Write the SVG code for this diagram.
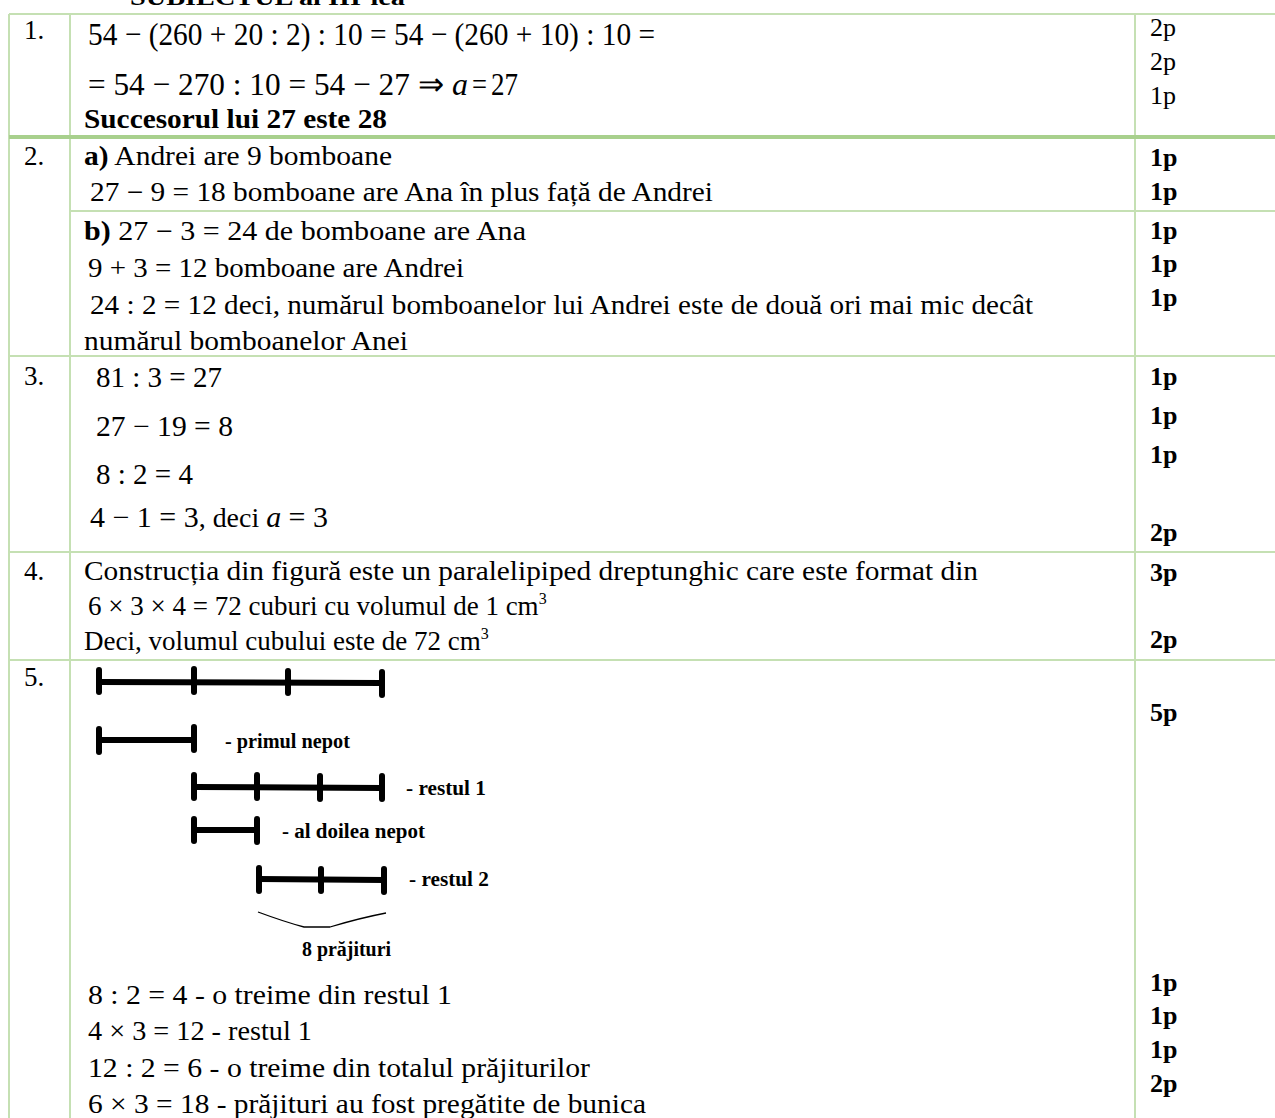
<svg xmlns="http://www.w3.org/2000/svg" width="1275" height="1118" viewBox="0 0 1275 1118">
  <style>
    text { font-family: "Liberation Serif", "Times New Roman", serif; fill: #000; }
    .t { font-size: 27px; }
    .eq { font-size: 29px; }
    .eq1 { font-size: 32px; }
    .i { font-style: italic; }
    .b { font-weight: bold; }
    .pt { font-size: 26px; }
    .lbl { font-size: 20.5px; font-weight: bold; }
    .grid { stroke: #c5e0b3; stroke-width: 2; fill: none; }
    .thick { stroke: #a8d08d; stroke-width: 4; }
    .bar { stroke: #000; stroke-width: 6; stroke-linecap: round; fill: none; }
    .brace { stroke: #000; stroke-width: 1.3; fill: none; }
  </style>

  <!-- heading, mostly above the visible area -->
  <text x="130" y="5" class="b" font-size="24" textLength="275" lengthAdjust="spacingAndGlyphs">SUBIECTUL al III-lea</text>

  <!-- table rules -->
  <g id="grid" class="grid">
    <line x1="9" y1="14" x2="1275" y2="14"/>
    <line x1="9" y1="14" x2="9" y2="1118"/>
    <line x1="70" y1="14" x2="70" y2="1118"/>
    <line x1="1135" y1="14" x2="1135" y2="1118"/>
    <line x1="9" y1="137" x2="1275" y2="137" class="thick"/>
    <line x1="70" y1="211" x2="1275" y2="211"/>
    <line x1="9" y1="356" x2="1275" y2="356"/>
    <line x1="9" y1="552" x2="1275" y2="552"/>
    <line x1="9" y1="660" x2="1275" y2="660"/>
  </g>

  <!-- row 1 -->
  <g id="row1">
    <text x="24" y="39" class="t">1.</text>
    <text x="88" y="45" class="eq1" textLength="567" lengthAdjust="spacingAndGlyphs">54 − (260 + 20 : 2) : 10 = 54 − (260 + 10) : 10 =</text>
    <text x="88" y="95" class="eq1" textLength="356" lengthAdjust="spacingAndGlyphs">= 54 − 270 : 10 = 54 − 27 ⇒</text>
    <text x="452" y="95" class="eq1 i">a</text>
    <text x="472" y="95" class="eq1" textLength="15" lengthAdjust="spacingAndGlyphs">=</text>
    <text x="491" y="95" class="eq1" textLength="27" lengthAdjust="spacingAndGlyphs">27</text>
    <text x="84" y="128" class="t b" textLength="303" lengthAdjust="spacingAndGlyphs">Succesorul lui 27 este 28</text>
    <text x="1150" y="36" class="pt">2p</text>
    <text x="1150" y="70" class="pt">2p</text>
    <text x="1150" y="104" class="pt">1p</text>
  </g>

  <!-- row 2 -->
  <g id="row2">
    <text x="24" y="165" class="t">2.</text>
    <text x="84" y="165" class="t" textLength="308" lengthAdjust="spacingAndGlyphs"><tspan class="b">a)</tspan> Andrei are 9 bomboane</text>
    <text x="90" y="201" class="t" textLength="623" lengthAdjust="spacingAndGlyphs">27 − 9 = 18 bomboane are Ana în plus față de Andrei</text>
    <text x="84" y="240" class="t" textLength="442" lengthAdjust="spacingAndGlyphs"><tspan class="b">b)</tspan>  27 − 3 = 24 de bomboane are Ana</text>
    <text x="88" y="277" class="t" textLength="376" lengthAdjust="spacingAndGlyphs">9 + 3 = 12 bomboane are Andrei</text>
    <text x="90" y="314" class="t" textLength="943" lengthAdjust="spacingAndGlyphs">24 : 2 = 12 deci, numărul bomboanelor lui Andrei este de două ori mai mic decât</text>
    <text x="84" y="350" class="t" textLength="324" lengthAdjust="spacingAndGlyphs">numărul bomboanelor Anei</text>
    <text x="1150" y="166" class="pt b">1p</text>
    <text x="1150" y="200" class="pt b">1p</text>
    <text x="1150" y="239" class="pt b">1p</text>
    <text x="1150" y="272" class="pt b">1p</text>
    <text x="1150" y="306" class="pt b">1p</text>
  </g>

  <!-- row 3 -->
  <g id="row3">
    <text x="24" y="385" class="t">3.</text>
    <text x="96" y="387" class="eq" textLength="126" lengthAdjust="spacingAndGlyphs">81 : 3 = 27</text>
    <text x="96" y="436" class="eq" textLength="137" lengthAdjust="spacingAndGlyphs">27 − 19 = 8</text>
    <text x="96" y="484" class="eq" textLength="97" lengthAdjust="spacingAndGlyphs">8 : 2 = 4</text>
    <text x="90" y="527" class="eq" textLength="238" lengthAdjust="spacingAndGlyphs">4 − 1 = 3<tspan font-size="27">, deci </tspan> <tspan font-style="italic">a</tspan> = 3</text>
    <text x="1150" y="385" class="pt b">1p</text>
    <text x="1150" y="424" class="pt b">1p</text>
    <text x="1150" y="463" class="pt b">1p</text>
    <text x="1150" y="541" class="pt b">2p</text>
  </g>

  <!-- row 4 -->
  <g id="row4">
    <text x="24" y="580" class="t">4.</text>
    <text x="84" y="580" class="t" textLength="894" lengthAdjust="spacingAndGlyphs">Construcția din figură este un paralelipiped dreptunghic care este format din</text>
    <text x="88" y="615" class="t">6 × 3 × 4 = 72 cuburi cu volumul de 1 cm<tspan font-size="16" dy="-11">3</tspan></text>
    <text x="84" y="650" class="t">Deci, volumul cubului este de 72 cm<tspan font-size="16" dy="-11">3</tspan></text>
    <text x="1150" y="581" class="pt b">3p</text>
    <text x="1150" y="648" class="pt b">2p</text>
  </g>

  <!-- row 5: segment sketch -->
  <g id="row5">
    <text x="24" y="686" class="t">5.</text>

    <g id="segment-total">
      <line class="bar" x1="99" y1="682" x2="382" y2="683"/>
      <line class="bar" x1="99" y1="670" x2="99" y2="692"/>
      <line class="bar" x1="194" y1="669" x2="194" y2="692"/>
      <line class="bar" x1="288" y1="671" x2="288" y2="693"/>
      <line class="bar" x1="382" y1="672" x2="382" y2="695"/>
    </g>
    <g id="segment-first">
      <line class="bar" x1="99" y1="740" x2="193" y2="740"/>
      <line class="bar" x1="99" y1="729" x2="99" y2="752"/>
      <line class="bar" x1="194" y1="727" x2="194" y2="750"/>
      <text x="225" y="748" class="lbl" textLength="125" lengthAdjust="spacingAndGlyphs">- primul nepot</text>
    </g>
    <g id="segment-rest1">
      <line class="bar" x1="194" y1="787" x2="382" y2="788"/>
      <line class="bar" x1="194" y1="775" x2="194" y2="798"/>
      <line class="bar" x1="257" y1="775" x2="257" y2="798"/>
      <line class="bar" x1="320" y1="776" x2="320" y2="799"/>
      <line class="bar" x1="382" y1="776" x2="382" y2="799"/>
      <text x="406" y="795" class="lbl" textLength="80" lengthAdjust="spacingAndGlyphs">- restul 1</text>
    </g>
    <g id="segment-second">
      <line class="bar" x1="194" y1="830" x2="257" y2="830"/>
      <line class="bar" x1="194" y1="819" x2="194" y2="841"/>
      <line class="bar" x1="257" y1="819" x2="257" y2="842"/>
      <text x="282" y="838" class="lbl" textLength="143" lengthAdjust="spacingAndGlyphs">- al doilea nepot</text>
    </g>
    <g id="segment-rest2">
      <line class="bar" x1="259" y1="879" x2="384" y2="880"/>
      <line class="bar" x1="259" y1="868" x2="259" y2="891"/>
      <line class="bar" x1="321" y1="869" x2="321" y2="891"/>
      <line class="bar" x1="384" y1="869" x2="384" y2="892"/>
      <text x="409" y="886" class="lbl" textLength="80" lengthAdjust="spacingAndGlyphs">- restul 2</text>
    </g>
    <path class="brace" d="M258,912 Q285,922 304,927 L330,927 Q360,918 386,913"/>
    <text x="302" y="956" class="lbl" textLength="89" lengthAdjust="spacingAndGlyphs">8 prăjituri</text>

    <text x="88" y="1004" class="t" textLength="364" lengthAdjust="spacingAndGlyphs">8 : 2 = 4  - o treime din restul 1</text>
    <text x="88" y="1040" class="t" textLength="224" lengthAdjust="spacingAndGlyphs">4 × 3 = 12 - restul 1</text>
    <text x="88" y="1077" class="t" textLength="502" lengthAdjust="spacingAndGlyphs">12 : 2 = 6  - o treime din totalul prăjiturilor</text>
    <text x="88" y="1113" class="t" textLength="558" lengthAdjust="spacingAndGlyphs">6 × 3 = 18  - prăjituri au fost pregătite de bunica</text>

    <text x="1150" y="721" class="pt b">5p</text>
    <text x="1150" y="991" class="pt b">1p</text>
    <text x="1150" y="1024" class="pt b">1p</text>
    <text x="1150" y="1058" class="pt b">1p</text>
    <text x="1150" y="1092" class="pt b">2p</text>
  </g>
</svg>
